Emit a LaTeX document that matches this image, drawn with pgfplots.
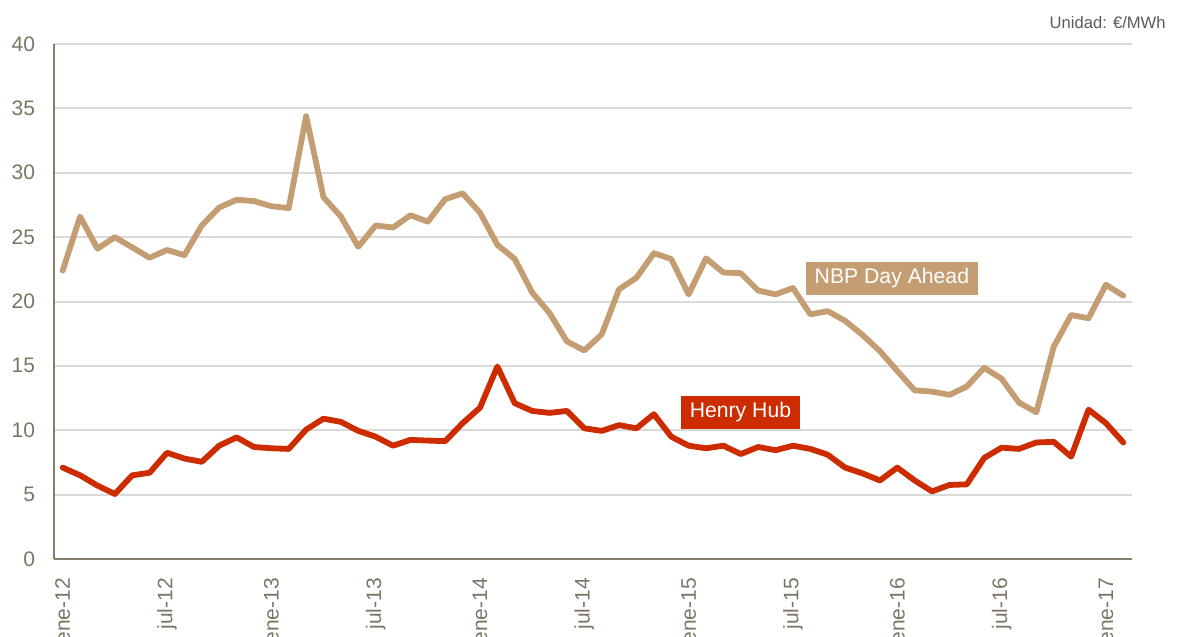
\documentclass[border=0pt]{standalone}
\usepackage{fontspec}
\setmainfont{Liberation Sans}
\usepackage{pgfplots}
\usepackage{pgfplotstable}
\pgfplotsset{compat=1.18}

\definecolor{nbp}{RGB}{196,158,114}
\definecolor{hh}{RGB}{205,43,0}
\definecolor{axisgray}{RGB}{134,125,106}
\definecolor{ticktext}{RGB}{125,117,99}
\definecolor{gridgray}{RGB}{217,217,217}
\definecolor{unitgray}{RGB}{90,90,90}

% Monthly prices, ene-12 (0) to feb-17 (61), EUR/MWh
\pgfplotstableread{
i  nbp   hh
0  22.4  7.1
1  26.6  6.5
2  24.1  5.7
3  25.0  5.05
4  24.2  6.5
5  23.4  6.7
6  24.0  8.25
7  23.6  7.8
8  25.9  7.55
9  27.3  8.8
10 27.9  9.45
11 27.8  8.7
12 27.4  8.6
13 27.25 8.55
14 34.4  10.05
15 28.1  10.9
16 26.6  10.65
17 24.25 9.95
18 25.9  9.5
19 25.75 8.8
20 26.7  9.25
21 26.2  9.2
22 27.95 9.15
23 28.4  10.55
24 26.9  11.75
25 24.4  14.95
26 23.3  12.1
27 20.7  11.5
28 19.1  11.35
29 16.9  11.5
30 16.2  10.15
31 17.45 9.95
32 20.95 10.4
33 21.85 10.15
34 23.75 11.25
35 23.3  9.5
36 20.55 8.8
37 23.35 8.6
38 22.25 8.8
39 22.2  8.15
40 20.85 8.7
41 20.55 8.45
42 21.05 8.8
43 19.0  8.55
44 19.25 8.1
45 18.5  7.1
46 17.4  6.65
47 16.15 6.1
48 14.6  7.1
49 13.1  6.1
50 13.0  5.25
51 12.75 5.75
52 13.4  5.8
53 14.85 7.85
54 14.0  8.65
55 12.15 8.55
56 11.4  9.05
57 16.5  9.1
58 18.95 7.95
59 18.7  11.6
60 21.3  10.55
61 20.45 9.05
}\prices

\begin{document}
\begin{tikzpicture}
\begin{axis}[
  at={(0,0)}, anchor=south west,
  scale only axis, width=539pt, height=257.5pt,
  xmin=-0.5, xmax=61.5, ymin=0, ymax=40,
  ytick={0,5,...,40},
  xtick={0,6,...,60},
  xticklabels={ene-12,jul-12,ene-13,jul-13,ene-14,jul-14,ene-15,jul-15,ene-16,jul-16,ene-17},
  axis x line*=bottom, axis y line*=left,
  axis line style={axisgray, line width=1pt, -},
  major tick length=0pt,
  ymajorgrids, grid style={gridgray, line width=1pt},
  tick label style={font=\fontsize{10.5}{12}\selectfont, text=ticktext},
  /pgf/number format/assume math mode=true,
  yticklabel shift=6pt,
  xticklabel shift=6pt,
  xticklabel style={rotate=90, anchor=east},
  clip=false,
]
\addplot[nbp, line width=2.9pt, line join=round, line cap=round] table[x=i, y=nbp] {\prices};
\addplot[hh, line width=2.9pt, line join=round, line cap=round] table[x=i, y=hh] {\prices};

\node[fill=nbp, text=white, inner xsep=4.5pt, minimum height=16.5pt,
      font=\fontsize{10.6}{12}\selectfont] at (axis cs:47.69,21.79) {NBP Day Ahead};
\node[fill=hh, text=white, inner xsep=4.5pt, minimum height=16.5pt,
      font=\fontsize{10.6}{12}\selectfont] at (axis cs:38.98,11.38) {Henry Hub};
\end{axis}

\node[anchor=base east, inner sep=0pt, text=unitgray,
      font=\fontsize{8.3}{10}\selectfont] at (556pt,265pt) {Unidad: €/MWh};

\pgfresetboundingbox
\path[use as bounding box] (-27pt,-39pt) rectangle (564.5pt,279.5pt);
\end{tikzpicture}
\end{document}
